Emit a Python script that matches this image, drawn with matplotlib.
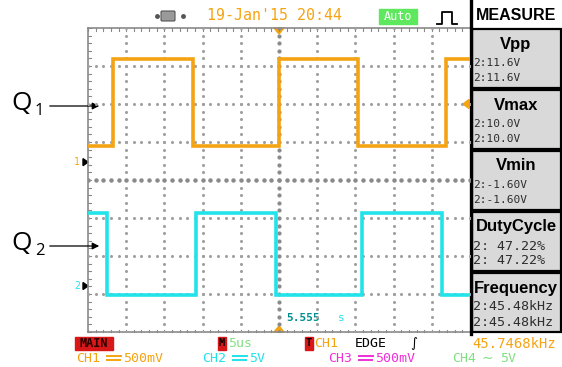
import numpy as np
import matplotlib.pyplot as plt
from matplotlib.patches import Rectangle, Polygon, FancyBboxPatch

# Scope traces: time in microseconds (5 us/div, trigger at centre),
# amplitude in screen divisions (8 divisions tall)
ch1_t = [-25.0, -21.7, -11.3, 0.0, 10.3, 21.9, 25.0]
ch1_v = [0.90, 3.18, 0.90, 3.18, 0.90, 3.18, 3.18]
ch2_t = [-25.0, -22.5, -10.8, -0.4, 10.9, 21.4, 25.0]
ch2_v = [-0.86, -3.03, -0.86, -3.03, -0.86, -3.03, -3.03]

ch1_ground = 0.47
ch2_ground = -2.79
trig_level = 2.0

measure_names = ["Vpp", "Vmax", "Vmin", "DutyCycle", "Frequency"]
measure_values = ["2:11.6V", "2:10.0V", "2:-1.60V", "2: 47.22%", "2:45.48kHz"]
measure_sizes = [8.0, 8.0, 8.0, 9.6, 9.6]

channel_names = ["CH1", "CH2", "CH3", "CH4"]
channel_scales = ["500mV", "5V", "500mV", "5V"]
channel_coupling = ["dc", "dc", "dc", "ac"]

ORANGE = "#f4a412"
CYAN = "#22e2ea"
DOT = "#a0a0a0"
MONO = "DejaVu Sans Mono"

W, H = 562, 367
fig = plt.figure(figsize=(W / 100, H / 100), dpi=100)
fig.patch.set_facecolor("white")

# pixel-space overlay for the instrument chrome
bg = fig.add_axes([0, 0, 1, 1])
bg.set_xlim(0, W)
bg.set_ylim(H, 0)
bg.axis("off")

# graticule area
gx0, gx1, gy0, gy1 = 88, 470, 28, 332
ax = fig.add_axes([gx0 / W, 1 - gy1 / H, (gx1 - gx0) / W, (gy1 - gy0) / H])
ax.set_xlim(-25, 25)
ax.set_ylim(-4, 4)
ax.axis("off")
ax.patch.set_alpha(0)

fine_y = np.linspace(-4, 4, 41)
fine_x = np.linspace(-25, 25, 51)
for k in range(-4, 5):
    if k == 0:
        continue
    ax.plot(np.full_like(fine_y, 5 * k), fine_y, ls="none", marker="o", ms=1.2, color=DOT)
for k in range(-3, 4):
    if k == 0:
        continue
    ax.plot(fine_x, np.full_like(fine_x, k), ls="none", marker="o", ms=1.2, color=DOT)
ax.plot(np.zeros_like(fine_y), fine_y, ls="none", marker="o", ms=2.0, color="#8a8a8a")
ax.plot(fine_x, np.zeros_like(fine_x), ls="none", marker="o", ms=2.2, color="#8a8a8a")

ax.plot(ch1_t, ch1_v, drawstyle="steps-post", color=ORANGE, lw=2.6, solid_joinstyle="miter")
ax.plot(ch2_t, ch2_v, drawstyle="steps-post", color=CYAN, lw=2.6, solid_joinstyle="miter")

# graticule frame with ruler ticks
bg.plot([gx0, gx0], [gy0, gy1], color="#8a8a8a", lw=1.2)
bg.plot([gx0, gx1], [gy0, gy0], color="#8a8a8a", lw=1.2)
bg.plot([gx0, gx1], [gy1, gy1], color="#8a8a8a", lw=1.2)
for xt in np.linspace(gx0, gx1, 51):
    bg.plot([xt, xt], [gy0, gy0 + 2.5], color="#8a8a8a", lw=0.8)
    bg.plot([xt, xt], [gy1, gy1 - 2.5], color="#8a8a8a", lw=0.8)
for yt in np.linspace(gy0, gy1, 41):
    bg.plot([gx0, gx0 + 2.5], [yt, yt], color="#8a8a8a", lw=0.8)


def ypix(v):
    return (gy0 + gy1) / 2 - v * (gy1 - gy0) / 8


# channel ground markers and trigger markers
for gnd, lab, col in [(ch1_ground, "1", ORANGE), (ch2_ground, "2", CYAN)]:
    yp = ypix(gnd)
    bg.add_patch(Polygon([[83, yp - 3.5], [83, yp + 3.5], [88, yp]], color="black"))
    bg.text(80, yp, lab, color=col, fontsize=7, family=MONO, ha="right", va="center")
xc = (gx0 + gx1) / 2
bg.add_patch(Polygon([[xc - 5, gy0], [xc + 5, gy0], [xc, gy0 + 6]], color=ORANGE))
bg.add_patch(Polygon([[xc - 5, gy1], [xc + 5, gy1], [xc, gy1 - 6]], color=ORANGE))
ty = ypix(trig_level)
bg.add_patch(Polygon([[gx1 - 1, ty - 4.5], [gx1 - 1, ty + 4.5], [gx1 - 7, ty]], color=ORANGE))
bg.text(286, 318, "5.555", color="#008f8f", fontsize=8, family=MONO, weight="bold", va="center")
bg.text(338, 318, "s", color=CYAN, fontsize=8, family=MONO, va="center")

# top status line
bg.add_patch(FancyBboxPatch((162, 12), 12, 8, boxstyle="round,pad=1", fc="#9a9a9a", ec="#555555", lw=0.8))
bg.plot([157, 183], [16, 16], ls="none", marker="o", ms=2.5, color="#555555")
bg.text(207, 16, "19-Jan'15 20:44", color=ORANGE, fontsize=10.8, family=MONO, va="center")
bg.add_patch(Rectangle((379, 9), 38, 15, color="#5ee85e"))
bg.text(398, 16.5, "Auto", color="white", fontsize=8.5, family=MONO, ha="center", va="center")
bg.plot([437, 442, 442, 452, 452, 457], [24, 24, 12, 12, 24, 24], color="black", lw=1.3)

# measurement panel
bg.plot([471, 471], [0, 334], color="black", lw=2.4)
bg.text(516, 15, "MEASURE", fontsize=11.5, weight="bold", family="Liberation Sans",
        ha="center", va="center")
for i, (name, val) in enumerate(zip(measure_names, measure_values)):
    top = 29 + 61 * i
    bg.add_patch(Rectangle((472, top), 89, 59, fc="#d9d9d9", ec="black", lw=1.6))
    bg.text(516, top + 15, name, fontsize=12, weight="bold", family="Liberation Sans",
            ha="center", va="center")
    for row in (34, 49):
        bg.text(473, top + row, val, fontsize=measure_sizes[i], family=MONO,
                color="#2e2e2e", va="center")

# bottom status lines
bg.add_patch(Rectangle((75, 337), 38, 13, color="#d81818"))
bg.text(94, 343.5, "MAIN", fontsize=8.5, family=MONO, weight="bold", ha="center",
        va="center", color="#2a0000")
bg.add_patch(Rectangle((218, 337), 8, 13, color="#d81818"))
bg.text(222, 343.5, "M", fontsize=7.5, family=MONO, weight="bold", ha="center", va="center")
bg.text(228, 343.5, "5us", fontsize=9.5, family=MONO, va="center", color="#86e086")
bg.add_patch(Rectangle((305, 337), 8, 13, color="#d81818"))
bg.text(309, 343.5, "T", fontsize=7.5, family=MONO, weight="bold", ha="center", va="center")
bg.text(314, 343.5, "CH1", fontsize=9.5, family=MONO, va="center", color=ORANGE)
bg.text(355, 343.5, "EDGE", fontsize=9.5, family=MONO, va="center", color="black")
bg.text(410, 343.5, "\u222b", fontsize=9.5, family="DejaVu Sans", va="center", color="black")
bg.text(472, 343.5, "45.7468kHz", fontsize=10, family=MONO, va="center", color=ORANGE)

chan_x = [76, 202, 328, 452]
chan_cols = [ORANGE, CYAN, "#ee30d8", "#80e080"]
ry = 358
for x, name, scale, coup, col in zip(chan_x, channel_names, channel_scales,
                                     channel_coupling, chan_cols):
    bg.text(x, ry, name, fontsize=9.5, family=MONO, va="center", color=col)
    if coup == "dc":
        # DC coupling glyph: solid bar over a dashed bar
        bg.plot([x + 31, x + 45], [ry - 2, ry - 2], color=col, lw=1.4)
        for s in (31, 36, 41):
            bg.plot([x + s, x + s + 3], [ry + 1.5, ry + 1.5], color=col, lw=1.4)
        bg.text(x + 47, ry, scale, fontsize=9.5, family=MONO, va="center", color=col)
    else:
        bg.text(x + 30, ry, "\u223c", fontsize=10, family="DejaVu Sans", va="center", color=col)
        bg.text(x + 48, ry, scale, fontsize=9.5, family=MONO, va="center", color=col)

# signal annotations
for y, sub in [(104, "1"), (244, "2")]:
    bg.text(11, y, "Q", fontsize=19, family="Open Sans", va="center")
    bg.text(35, y + 7, sub, fontsize=12, family="Open Sans", va="center")
    bg.annotate("", xy=(102, y + 2), xytext=(47, y + 2),
                arrowprops=dict(arrowstyle="-|>", color="black", lw=0.9, mutation_scale=10))

fig.savefig("out.png", dpi=100)
